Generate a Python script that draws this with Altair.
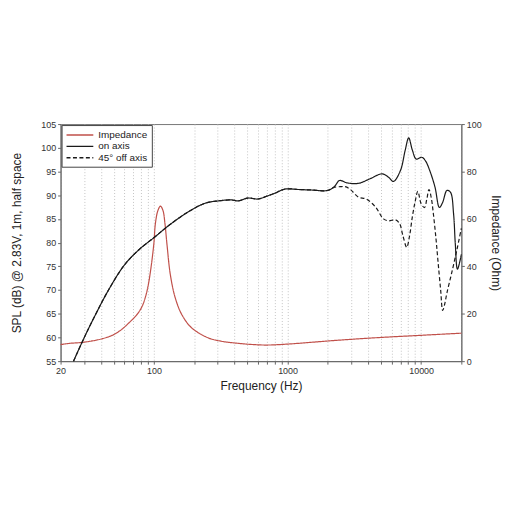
import altair as alt
import pandas as pd

# ---- data ----
imp_freq = [20, 23.3, 30, 41.2, 50, 58.0, 65.1, 73.0, 77.2, 82, 86.5, 90.5, 94.2, 99.8, 102.5,
            107, 111.9, 116.9, 120.9, 125.3, 132.7, 144.5, 161.8, 191.9, 255.4, 320, 430, 670,
            1000, 2350, 5000, 10000, 20000]
imp_ohm = [7.0, 7.5, 8.0, 9.5, 11.2, 13.6, 16.2, 19.0, 20.8, 23.4, 27.2, 31.9, 37.9, 49.5, 58.0,
           63.5, 65.4, 63.5, 58.0, 49.0, 36.4, 26.6, 19.6, 14.0, 9.8, 8.4, 7.5, 6.8, 7.2, 8.8,
           10.0, 10.9, 11.8]

on_freq = [25, 30.1, 36.8, 45.7, 59.8, 77.2, 102.6, 128.9, 181, 241, 303, 380, 427, 504, 600,
           700, 800, 960, 1200, 1500, 2000, 2240, 2450, 2790, 3390, 4100, 5100, 5700, 6200, 7000,
           7600, 8070, 8600, 9200, 10100, 10800, 11600, 12700, 13700, 14500, 15600, 16600, 17500,
           18000, 18700, 20000]
on_spl = [55.0, 60.0, 65.0, 70.0, 75.2, 78.5, 81.3, 83.6, 86.5, 88.3, 88.8, 89.0, 88.8, 89.4,
          89.2, 89.8, 90.4, 91.3, 91.2, 91.1, 91.0, 91.8, 93.1, 92.6, 92.5, 93.4, 94.5, 93.8,
          92.9, 95.2, 99.5, 102.1, 99.5, 97.6, 98.0, 97.2, 95.2, 91.7, 87.4, 88.5, 91.0, 90.6,
          86.0, 80.0, 74.4, 77.5]

off_freq = [25, 30.1, 36.8, 45.7, 59.8, 77.2, 102.6, 128.9, 181, 241, 303, 380, 427, 504, 600,
            700, 800, 960, 1200, 1500, 2000, 2200, 2500, 2700, 2930, 3390, 3880, 4560, 5230, 5700,
            6440, 6900, 7300, 7800, 8200, 8600, 9000, 9450, 10000, 10600, 11000, 11450, 11900,
            12300, 12900, 13400, 14000, 14500, 15000, 15600, 16900, 18500, 20000]
off_spl = [55.0, 60.0, 65.0, 70.0, 75.2, 78.5, 81.3, 83.6, 86.5, 88.3, 88.8, 89.0, 88.8, 89.4,
           89.2, 89.8, 90.4, 91.3, 91.2, 91.1, 91.0, 91.6, 91.8, 91.8, 91.3, 89.6, 89.2, 87.5,
           85.0, 84.6, 84.8, 84.0, 81.5, 79.0, 81.5, 85.5, 88.5, 90.8, 88.2, 87.4, 89.0, 91.2,
           89.5, 86.5, 81.0, 75.8, 70.0, 65.7, 67.0, 69.4, 73.5, 78.4, 83.0]

series = ["Impedance", "on axis", "45° off axis"]
colors = ["#c0504a", "#1a1a1a", "#1a1a1a"]
dashes = [[1, 0], [1, 0], [4, 2.5]]

x_grid = [20, 30, 40, 50, 60, 70, 80, 90, 100, 200, 300, 400, 500, 600, 700, 800, 900,
          1000, 2000, 3000, 4000, 5000, 6000, 7000, 8000, 9000, 10000, 20000]
x_labels = [20, 100, 1000, 10000]
spl_ticks = list(range(55, 106, 5))
imp_ticks = [0, 20, 40, 60, 80, 100]

imp_df = pd.DataFrame({"f": imp_freq, "v": imp_ohm, "s": "Impedance"})
spl_df = pd.concat([
    pd.DataFrame({"f": on_freq, "v": on_spl, "s": "on axis"}),
    pd.DataFrame({"f": off_freq, "v": off_spl, "s": "45° off axis"}),
])

legend = alt.Legend(
    title=None, orient="top-left", offset=1, padding=4, strokeColor="#444",
    fillColor="white", symbolType="M-1,0H4.4", symbolSize=100, symbolStrokeWidth=1.4,
    labelFontSize=10, labelOffset=21, rowPadding=0.5, labelColor="#222",
    labelFont="Liberation Sans",
)
color = alt.Color("s:N", scale=alt.Scale(domain=series, range=colors), legend=legend)
dash = alt.StrokeDash("s:N", scale=alt.Scale(domain=series, range=dashes), legend=legend)

x_enc = alt.X(
    "f:Q",
    scale=alt.Scale(type="log", domain=[20, 20000], nice=False),
    axis=alt.Axis(
        values=x_grid, title="Frequency (Hz)", tickSize=3, labelPadding=2, labelFlush=False,
        labelExpr="indexof([20, 100, 1000, 10000], datum.value) >= 0 ? '' + datum.value : ''",
        titlePadding=6,
    ),
)

imp_layer = alt.Chart(imp_df).mark_line(strokeWidth=1.2, interpolate="catmull-rom").encode(
    x=x_enc,
    y=alt.Y("v:Q", scale=alt.Scale(domain=[0, 100], nice=False),
            axis=alt.Axis(orient="right", values=imp_ticks, grid=False,
                          title="Impedance (Ohm)", tickSize=3, labelPadding=2,
                          titlePadding=7)),
    color=color,
    strokeDash=dash,
)

spl_layer = alt.Chart(spl_df).mark_line(strokeWidth=1.2, interpolate="catmull-rom").encode(
    x=x_enc,
    y=alt.Y("v:Q", scale=alt.Scale(domain=[55, 105], nice=False, zero=False),
            axis=alt.Axis(values=spl_ticks, title="SPL (dB) @ 2.83V, 1m, half space",
                          tickSize=3, labelPadding=2, titlePadding=17)),
    color=color,
    strokeDash=dash,
)

chart = alt.layer(imp_layer, spl_layer).resolve_scale(y="independent").properties(
    width=404, height=239,
    autosize=alt.AutoSizeParams(type="none"),
    padding={"left": 53, "top": 115, "right": 43, "bottom": 142},
    background="white",
).configure_view(stroke="#777", strokeWidth=1).configure_axis(
    labelFont="Liberation Sans", titleFont="Liberation Sans", labelFontSize=9,
    titleFontSize=12, titleFontWeight="normal", labelColor="#333", titleColor="#222",
    domainColor="#666", tickColor="#666", gridColor="#c4c4c4", gridDash=[1, 2],
    gridWidth=1,
)

chart.save("out.html", embed_options={"renderer": "svg", "actions": False})
